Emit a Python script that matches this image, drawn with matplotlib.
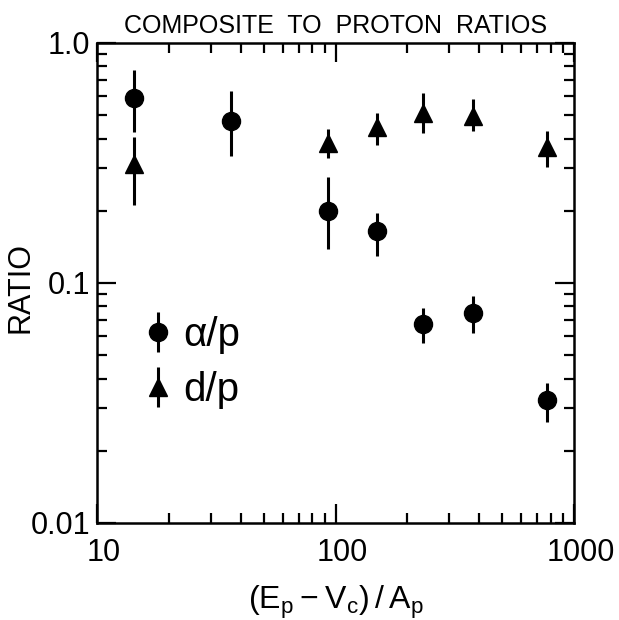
import matplotlib
matplotlib.use("Agg")
import matplotlib.pyplot as plt
from matplotlib.ticker import LogLocator, FixedLocator, FixedFormatter, NullFormatter
from matplotlib.transforms import ScaledTranslation
import numpy as np

plt.rcParams['font.family'] = ['Liberation Sans', 'DejaVu Sans']
plt.rcParams['mathtext.default'] = 'regular'

# alpha/p data
alpha_x = [14.3, 36.5, 93.3, 149, 233, 378, 773]
alpha_y = [0.588, 0.475, 0.200, 0.165, 0.0673, 0.0752, 0.0326]
alpha_hi = [0.772, 0.633, 0.277, 0.195, 0.0785, 0.0883, 0.0384]
alpha_lo = [0.427, 0.338, 0.138, 0.129, 0.0564, 0.0621, 0.0264]

# d/p data
deut_x = [14.3, 93.3, 149, 233, 378, 773]
deut_y = [0.312, 0.383, 0.448, 0.509, 0.496, 0.368]
deut_hi = [0.407, 0.437, 0.509, 0.617, 0.582, 0.431]
deut_lo = [0.211, 0.331, 0.376, 0.423, 0.430, 0.305]

x_ticks = [10, 100, 1000]
x_ticklabels = ['10', '100', '1000']
y_ticks = [0.01, 0.1, 1.0]
y_ticklabels = ['0.01', '0.1', '1.0']

fig = plt.figure(figsize=(6.19, 6.20), dpi=100)
ax = fig.add_axes([97/619, (620-523)/620, 477/619, 480/620])

a_err = [np.array(alpha_y) - np.array(alpha_lo), np.array(alpha_hi) - np.array(alpha_y)]
d_err = [np.array(deut_y) - np.array(deut_lo), np.array(deut_hi) - np.array(deut_y)]

ha = ax.errorbar(alpha_x, alpha_y, yerr=a_err, fmt='o', color='black', ms=13,
                 elinewidth=2.2, capsize=0, label='α/p')
hd = ax.errorbar(deut_x, deut_y, yerr=d_err, fmt='^', color='black', ms=13,
                 elinewidth=2.2, capsize=0, label='d/p')

ax.set_xscale('log')
ax.set_yscale('log')
ax.set_xlim(10, 1000)
ax.set_ylim(0.01, 1.0)

ax.xaxis.set_major_locator(FixedLocator(x_ticks))
ax.xaxis.set_major_formatter(FixedFormatter(x_ticklabels))
ax.yaxis.set_major_locator(FixedLocator(y_ticks))
ax.yaxis.set_major_formatter(FixedFormatter(y_ticklabels))
ax.xaxis.set_minor_locator(LogLocator(base=10, subs=np.arange(2, 10)))
ax.yaxis.set_minor_locator(LogLocator(base=10, subs=np.arange(2, 10)))
ax.xaxis.set_minor_formatter(NullFormatter())
ax.yaxis.set_minor_formatter(NullFormatter())

ax.tick_params(which='both', direction='in', top=True, right=True, width=1.6, color='black')
ax.tick_params(which='major', length=14)
ax.tick_params(which='minor', length=7)
ax.tick_params(axis='x', which='major', pad=11, labelsize=22)
ax.tick_params(axis='y', which='major', pad=5, labelsize=22)

for s in ax.spines.values():
    s.set_linewidth(1.8)

ax.set_title('COMPOSITE  TO  PROTON  RATIOS', fontsize=18, pad=7)
ax.set_xlabel('$(E_p - V_c)\\,/\\,A_p$', fontsize=23)
ax.xaxis.set_label_coords(0.5, -0.126)
ax.set_ylabel('RATIO', fontsize=22)
ax.yaxis.set_label_coords(-0.128, 0.49)

fig.canvas.draw()
shift = ScaledTranslation(5/72, 0, fig.dpi_scale_trans)
for lab in ax.get_xticklabels():
    lab.set_transform(lab.get_transform() + shift)

leg = ax.legend(handles=[ha, hd], loc='upper left', bbox_to_anchor=(0.036, 0.49),
                frameon=False, fontsize=29, handlelength=0.8, handletextpad=0.22,
                labelspacing=0.42, borderpad=0.2)

fig.savefig('out.png', dpi=100)
